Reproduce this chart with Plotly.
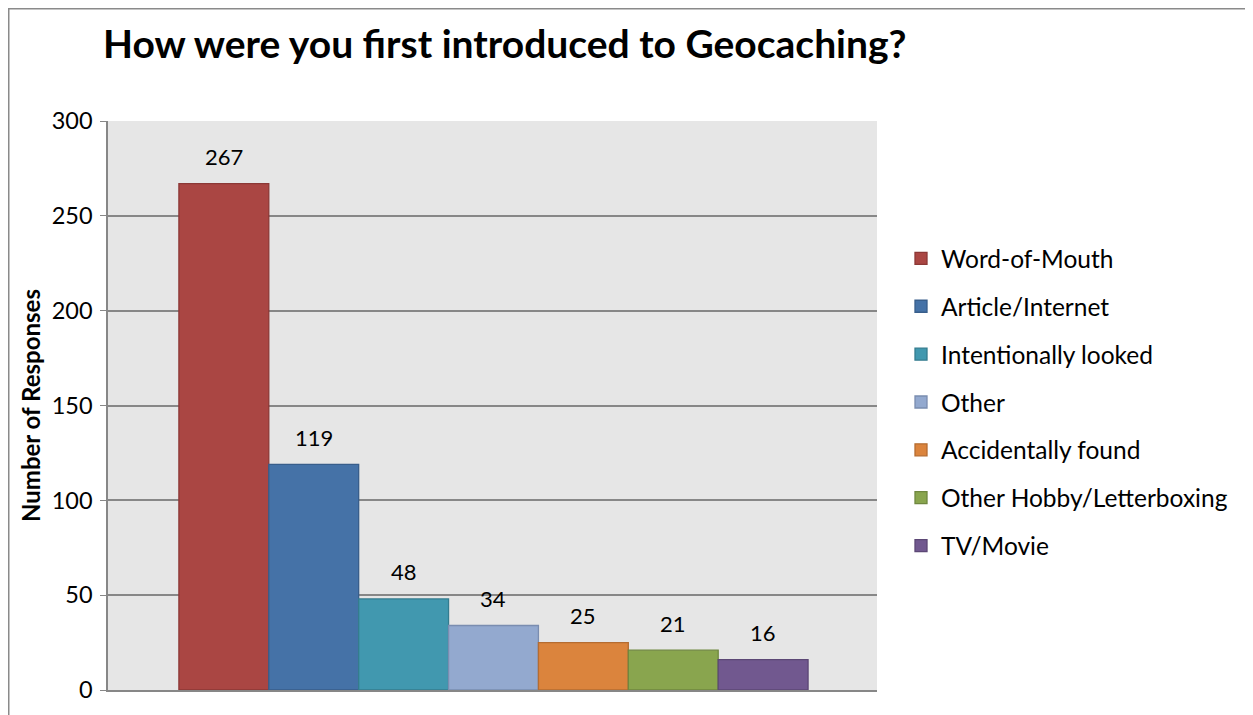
import plotly.graph_objects as go

categories = ["Word-of-Mouth", "Article/Internet", "Intentionally looked", "Other",
              "Accidentally found", "Other Hobby/Letterboxing", "TV/Movie"]
values = [267, 119, 48, 34, 25, 21, 16]
fill_colors = ["#AA4643", "#4572A7", "#4198AF", "#93A9CF", "#DB843D", "#89A54E", "#71588F"]
line_colors = ["#8C3836", "#385E8B", "#347C8F", "#7A8DB0", "#B56C31", "#6F873F", "#5C4775"]
y_ticks = [0, 50, 100, 150, 200, 250, 300]

FONT = "Lato"
OFF = 8  # page body margin
W, H = 1253 - OFF, 715 - OFF
L, R, T, B = 108 - OFF, (1253 - OFF) - (877 - OFF), 121 - OFF, (715 - OFF) - (690 - OFF)
pw, ph = W - L - R, H - T - B

fig = go.Figure()
for i, (cat, val, fc, lc) in enumerate(zip(categories, values, fill_colors, line_colors)):
    fig.add_trace(go.Bar(
        x=[i], y=[val], name=cat, width=1,
        marker=dict(color=fc, line=dict(color=lc, width=1.3)),
        legendgroup=cat, showlegend=True, hoverinfo="name+y",
    ))
    fig.add_annotation(x=i, y=val, text=str(val), showarrow=False,
                       yanchor="middle", yshift=27,
                       font=dict(family=FONT, size=22, color="#000000"))

# y axis title as rotated annotation
fig.add_annotation(xref="paper", yref="paper", x=(30 - 108) / pw, y=(690 - 406) / ph,
                   text="<b>Number of Responses</b>", textangle=-90, showarrow=False,
                   xanchor="center", yanchor="middle",
                   font=dict(family=FONT, size=24, color="#000000"))

fig.update_layout(
    width=W, height=H,
    margin=dict(l=L, r=R, t=T, b=B, autoexpand=False),
    paper_bgcolor="white", plot_bgcolor="#E6E6E6",
    barmode="overlay",
    title=dict(text="<b>How were you first introduced to Geocaching?</b>",
               x=(103 - OFF) / W, xanchor="left", y=1 - (44 - OFF) / H, yanchor="middle",
               font=dict(family=FONT, size=39, color="#000000")),
    xaxis=dict(range=[-1.289, 7.267], showticklabels=False, showgrid=False,
               zeroline=False, showline=True, linecolor="#878787", linewidth=2,
               ticks=""),
    yaxis=dict(range=[0, 300], tickvals=y_ticks, showgrid=True, gridcolor="#878787",
               gridwidth=1.5, zeroline=False, showline=True, linecolor="#878787",
               linewidth=1.5, ticks="outside", ticklen=6, tickcolor="#878787",
               ticklabelstandoff=3,
               tickfont=dict(family=FONT, size=23.5, color="#000000")),
    legend=dict(x=(901 - 108) / pw, xanchor="left", y=1 - (236 - 121) / ph, yanchor="top",
                font=dict(family=FONT, size=24.5, color="#000000"),
                tracegroupgap=13, bgcolor="rgba(0,0,0,0)", itemwidth=30),
    showlegend=True,
)

# outer chart frame
fig.add_shape(type="rect", xref="paper", yref="paper",
              x0=(0.5 - L) / pw, x1=(W + 20 - L) / pw,
              y0=-(B + 20) / ph, y1=1 + (T - 0.5) / ph,
              line=dict(color="#8A8A8A", width=2), fillcolor="rgba(0,0,0,0)", layer="below")

fig.write_html("out.html")
